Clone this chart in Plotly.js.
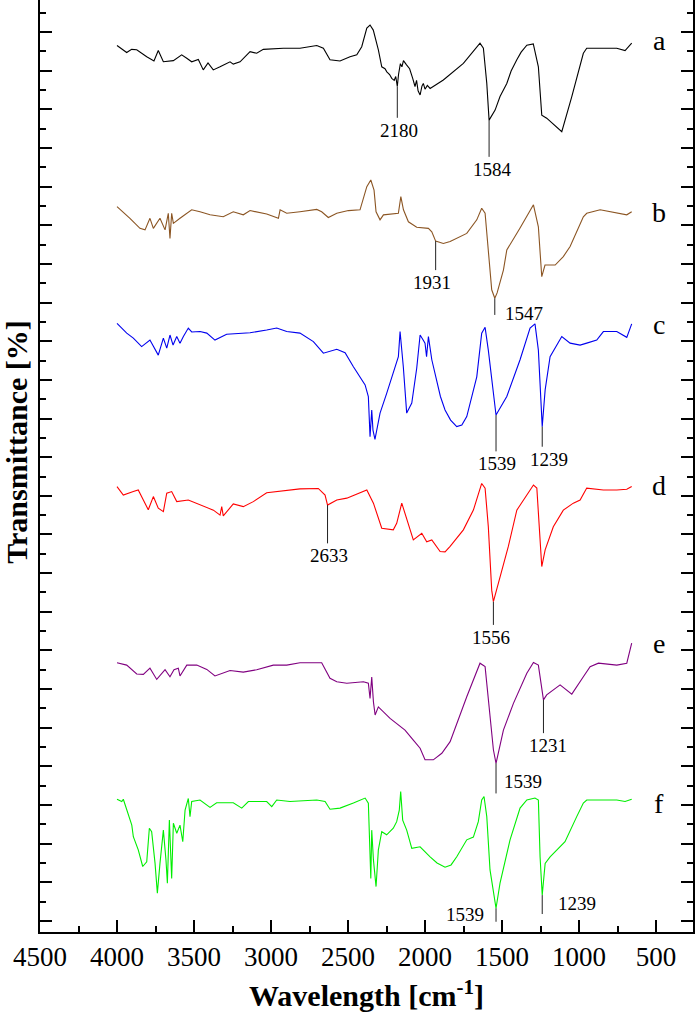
<!DOCTYPE html>
<html>
<head>
<meta charset="utf-8">
<script src="https://cdn.plot.ly/plotly-3.0.1.min.js"></script>
<style>
  html, body { margin: 0; padding: 0; overflow: hidden; background: #fff; }
  #chart { position: absolute; left: 0; top: -48px; width: 695px; height: 1067px; }
</style>
</head>
<body>
<div id="chart"></div>
<script>
// ---- Data (wavenumber in cm-1, offset transmittance in arbitrary % units) ----
const seriesNames = ['a', 'b', 'c', 'd', 'e', 'f'];
const seriesColors = ['#000000', '#8B5523', '#0000EE', '#FF0000', '#800080', '#00EE00'];

const wnA = [4000,3937,3905,3872,3807,3760,3732,3699,3634,3580,3547,3515,3472,3440,3409,3375,3331,3266,3245,3201,3136,3093,3050,2920,2812,2703,2660,2617,2552,2487,2443,2411,2378,2357,2336,2303,2281,2260,2248,2230,2216,2200,2190,2180,2172,2160,2150,2140,2120,2100,2080,2065,2055,2045,2032,2020,2011,2000,1985,1967,1881,1751,1643,1621,1599,1584,1545,1513,1469,1441,1404,1376,1339,1297,1264,1242,1210,1112,1047,972,950,755,701,658];
const tA  = [226.5,224.7,225.5,225.4,223.6,222.5,225.2,222.3,222.6,224.1,223.2,222.3,222.9,220.2,222.0,220.2,221.0,222.3,221.7,222.3,224.9,224.5,225.5,225.8,225.8,226.5,225.8,222.8,222.5,223.6,224.1,226.2,231.0,231.8,230.5,225.4,221.0,220.5,219.7,219.0,218.0,217.5,218.5,215.9,219.0,221.8,221.0,222.6,221.5,220.5,218.0,215.9,217.5,214.8,213.7,216.0,216.7,215.2,216.2,215.4,217.6,221.9,227.1,225.8,216.7,207.2,209.8,213.3,216.7,219.9,222.8,224.8,226.6,226.9,221.0,208.5,207.7,204.2,213.3,224.5,225.8,225.8,225.2,227.1];

const wnB = [4000,3916,3851,3818,3786,3764,3721,3688,3667,3656,3645,3634,3591,3547,3515,3461,3396,3310,3245,3180,3136,3028,2952,2941,2898,2812,2703,2671,2628,2573,2498,2422,2378,2352,2331,2318,2292,2270,2173,2157,2140,2108,2054,1978,1956,1931,1881,1837,1729,1664,1632,1610,1595,1589,1567,1547,1532,1491,1469,1383,1331,1296,1264,1253,1242,1221,1155,1102,1058,972,950,863,755,690,658];
const tB  = [184.8,181.8,179.2,178.8,181.8,179.2,181.8,178.8,183.1,176.6,183.1,180.5,181.8,183.1,184.0,183.5,182.7,182.2,183.5,182.7,183.8,182.9,181.8,184.0,183.1,183.5,184.1,183.5,182.0,183.1,183.8,184.0,190.0,191.7,189.1,183.5,181.4,182.7,183.1,187.4,184.0,180.9,179.5,179.2,178.3,175.9,175.3,175.8,177.9,181.4,184.4,183.1,176.2,173.6,163.3,161.1,162.5,168.4,173.6,179.3,182.9,185.3,179.6,173.6,166.7,169.7,169.7,171.9,174.5,182.2,183.1,184.0,183.1,182.7,183.5];

const wnC = [4000,3937,3894,3840,3786,3732,3699,3677,3656,3636,3612,3591,3569,3537,3515,3461,3417,3364,3288,3136,3028,2963,2898,2812,2725,2660,2573,2519,2465,2422,2389,2368,2357,2346,2338,2325,2292,2249,2206,2173,2162,2141,2119,2086,2054,2032,2015,2000,1990,1978,1956,1900,1870,1834,1794,1761,1729,1664,1632,1610,1589,1539,1469,1383,1318,1286,1264,1239,1220,1188,1144,1112,1058,993,950,885,842,755,690,658];
const tC  = [154.6,152.1,150.8,148.6,150.3,146.4,150.8,148.2,151.6,149.0,151.2,149.5,151.2,153.4,152.4,152.5,152.1,150.3,151.8,152.2,152.9,153.4,152.5,152.1,149.9,146.9,147.9,147.0,143.4,140.8,138.7,135.7,125.3,132.2,127.0,124.6,131.4,136.5,142.1,146.0,152.5,143.4,131.4,134.0,143.0,151.6,150.5,149.5,146.0,151.2,145.2,135.7,132.2,129.6,127.9,128.3,130.5,140.8,152.1,153.6,147.7,130.9,135.7,145.2,153.4,154.5,147.7,127.9,137.4,146.0,149.0,151.2,149.5,149.0,149.5,150.3,152.5,152.5,151.0,154.5];

const wnD = [4000,3959,3894,3862,3829,3797,3764,3732,3699,3677,3645,3612,3537,3461,3374,3331,3320,3310,3245,3180,3115,3028,2920,2812,2693,2649,2633,2573,2508,2378,2335,2281,2206,2184,2151,2119,2076,2021,1989,1956,1902,1870,1837,1751,1686,1632,1610,1589,1567,1556,1513,1459,1404,1361,1296,1274,1253,1242,1220,1167,1102,1037,993,950,842,755,690,658];
const tD  = [112.4,110.2,111.1,111.5,108.9,106.4,109.8,106.8,105.9,110.7,111.1,108.5,108.9,107.6,106.3,105.0,107.2,104.8,107.9,107.2,108.5,110.8,111.3,111.8,111.9,110.2,107.6,108.9,109.4,111.5,108.1,101.6,101.2,102.9,108.1,103.8,98.6,100.3,98.1,98.6,95.6,95.5,96.9,101.2,106.3,113.2,112.0,102.0,85.6,82.6,89.1,96.9,106.3,108.9,112.8,112.0,98.6,91.7,96.0,102.0,106.3,108.1,108.9,112.0,111.5,111.5,111.7,112.4];

const wnE = [4000,3937,3872,3829,3786,3742,3688,3656,3630,3602,3591,3547,3482,3417,3364,3266,3180,3093,2985,2898,2812,2671,2617,2573,2508,2400,2368,2357,2346,2335,2324,2303,2227,2162,2130,2076,2032,2000,1946,1891,1837,1729,1643,1610,1578,1556,1539,1491,1426,1339,1296,1264,1231,1210,1123,1047,972,928,874,755,690,658];
const tE  = [66.8,66.2,63.9,63.8,65.4,62.5,65.0,63.2,65.0,65.4,63.4,66.2,66.2,65.1,63.4,64.8,64.4,65.0,66.2,66.2,66.8,66.8,62.8,61.9,61.5,61.9,61.5,57.6,63.1,56.7,53.3,55.4,52.4,50.3,49.4,46.8,44.7,41.7,41.7,43.4,46.4,58.0,66.7,65.8,53.7,44.3,40.8,49.4,56.3,64.1,66.9,66.2,57.2,58.5,61.1,58.7,63.2,65.8,66.7,66.2,66.7,71.9];

const wnF = [4000,3969,3959,3937,3926,3904,3894,3862,3833,3807,3790,3775,3753,3738,3721,3699,3682,3673,3660,3645,3634,3612,3591,3573,3558,3537,3526,3515,3461,3396,3353,3245,3190,3147,3028,2995,2963,2877,2703,2649,2617,2552,2465,2389,2368,2352,2346,2335,2318,2303,2281,2249,2206,2184,2167,2158,2145,2119,2086,2032,1967,1922,1870,1831,1794,1729,1686,1654,1632,1617,1599,1578,1539,1513,1448,1383,1339,1286,1264,1253,1239,1220,1188,1123,1091,1015,972,950,755,701,658];
const tF  = [31.5,30.9,31.5,28.7,27.0,24.8,21.8,18.4,14.1,15.3,24.0,23.1,14.9,7.2,14.9,23.5,15.8,9.8,26.1,11.0,25.3,22.7,24.8,20.5,28.7,31.7,27.0,30.9,31.3,29.4,30.6,30.6,29.2,30.9,30.9,29.6,31.3,30.9,31.3,30.9,28.9,29.2,30.5,31.8,30.5,11.0,23.5,15.8,8.9,18.4,23.1,22.3,24.0,25.7,28.7,33.5,26.1,23.5,18.8,19.2,16.6,15.0,13.9,14.5,16.6,21.0,21.7,25.7,31.3,32.2,27.0,13.2,3.3,9.8,21.0,29.2,31.3,31.8,31.3,16.6,6.7,14.9,16.6,19.2,20.5,27.0,30.5,31.3,31.3,30.9,31.5];

// Peak annotations: series index, wavenumber, label
const peakSeries = [0, 0, 1, 1, 2, 2, 3, 3, 4, 4, 5, 5];
const peakWn     = [2180, 1584, 1931, 1547, 1539, 1239, 2633, 1556, 1539, 1231, 1539, 1239];
const peakText   = ['2180','1584','1931','1547','1539','1239','2633','1556','1539','1231','1539','1239'];

// Series letter label positions
const letterWn = 480;
const letterY  = [227.9, 183.2, 154.2, 112.8, 71.9, 30.3];

// ---- Styling of leader lines / label placement (layout only) ----
const peakLead  = [8.1, 9.5, 7.5, 4.3, 9.4, 5.2, 9.9, 6.0, 7.8, 8.6, 3.5, 4.9];
const peakPlace = ['below','below','below','right','below','below','below','below','right','below','left','right'];
const peakDx    = [2, 3, -4, 8, 1, 7, 1, -2, 6, 5, -10, 14];
const peakDy    = [0, 0, 0, 1, 0, 0, 0, 0, 12, 0, 7, 11];

const wnAll = [wnA, wnB, wnC, wnD, wnE, wnF];
const tAll  = [tA, tB, tC, tD, tE, tF];

function valueAt(wn, ws, ts) {
  for (let i = 0; i < ws.length - 1; i++) {
    const w0 = ws[i], w1 = ws[i + 1];
    if (wn <= w0 && wn >= w1) {
      const f = (w0 === w1) ? 0 : (w0 - wn) / (w0 - w1);
      return ts[i] + f * (ts[i + 1] - ts[i]);
    }
  }
  return ts[ts.length - 1];
}

const FONT = '"Liberation Serif", "Times New Roman", serif';

const traces = seriesNames.map((n, i) => ({
  type: 'scatter', mode: 'lines', name: n,
  x: wnAll[i], y: tAll[i],
  line: { color: seriesColors[i], width: 1.1 },
  hoverinfo: 'skip', showlegend: false
}));

const shapes = [];
const annotations = [];
peakWn.forEach((wn, k) => {
  const s = peakSeries[k];
  const y0 = valueAt(wn, wnAll[s], tAll[s]);
  const y1 = y0 - peakLead[k];
  shapes.push({ type: 'line', xref: 'x', yref: 'y', x0: wn, x1: wn, y0: y0, y1: y1,
                line: { color: '#222', width: 1 } });
  const a = { x: wn, y: y1, xref: 'x', yref: 'y', text: peakText[k], showarrow: false,
              font: { family: FONT, size: 19, color: '#000' },
              xshift: peakDx[k], yshift: peakDy[k] };
  if (peakPlace[k] === 'below') { a.xanchor = 'center'; a.yanchor = 'top'; }
  else if (peakPlace[k] === 'right') { a.xanchor = 'left'; a.yanchor = 'middle'; }
  else { a.xanchor = 'right'; a.yanchor = 'middle'; }
  annotations.push(a);
});
seriesNames.forEach((n, i) => {
  annotations.push({ x: letterWn, y: letterY[i], xref: 'x', yref: 'y', text: n, showarrow: false,
    xanchor: 'center', yanchor: 'middle', font: { family: FONT, size: 28, color: '#000' } });
});

const layout = {
  width: 695, height: 1067,
  margin: { l: 40, r: 2, t: 0, b: 87 },
  paper_bgcolor: '#fff', plot_bgcolor: '#fff',
  font: { family: FONT, color: '#000' },
  showlegend: false,
  xaxis: {
    range: [4500, 260], autorange: false,
    tick0: 500, dtick: 500, ticks: 'inside', ticklen: 12, tickwidth: 2, tickcolor: '#000',
    minor: { dtick: 250, ticks: 'inside', ticklen: 6, tickwidth: 2, tickcolor: '#000', showgrid: false },
    showline: true, linewidth: 2, linecolor: '#000', mirror: false,
    showgrid: false, zeroline: false,
    tickfont: { family: FONT, size: 27, color: '#000' },
    title: { text: 'Wavelength [cm<sup>-1</sup>]', font: { family: FONT, size: 30, weight: 'bold', color: '#000' }, standoff: 14 }
  },
  yaxis: {
    range: [-2.85, 250.7], autorange: false,
    tick0: 0, dtick: 10, ticks: 'inside', ticklen: 12, tickwidth: 2, tickcolor: '#000',
    minor: { dtick: 5, ticks: 'inside', ticklen: 6, tickwidth: 2, tickcolor: '#000', showgrid: false },
    showticklabels: false,
    showline: true, linewidth: 2, linecolor: '#000', mirror: 'ticks',
    showgrid: false, zeroline: false,
    title: { text: 'Transmittance [%]', font: { family: FONT, size: 30, weight: 'bold', color: '#000' }, standoff: 14 }
  },
  shapes: shapes,
  annotations: annotations
};

Plotly.newPlot('chart', traces, layout, { staticPlot: true, displayModeBar: false });
</script>
</body>
</html>
